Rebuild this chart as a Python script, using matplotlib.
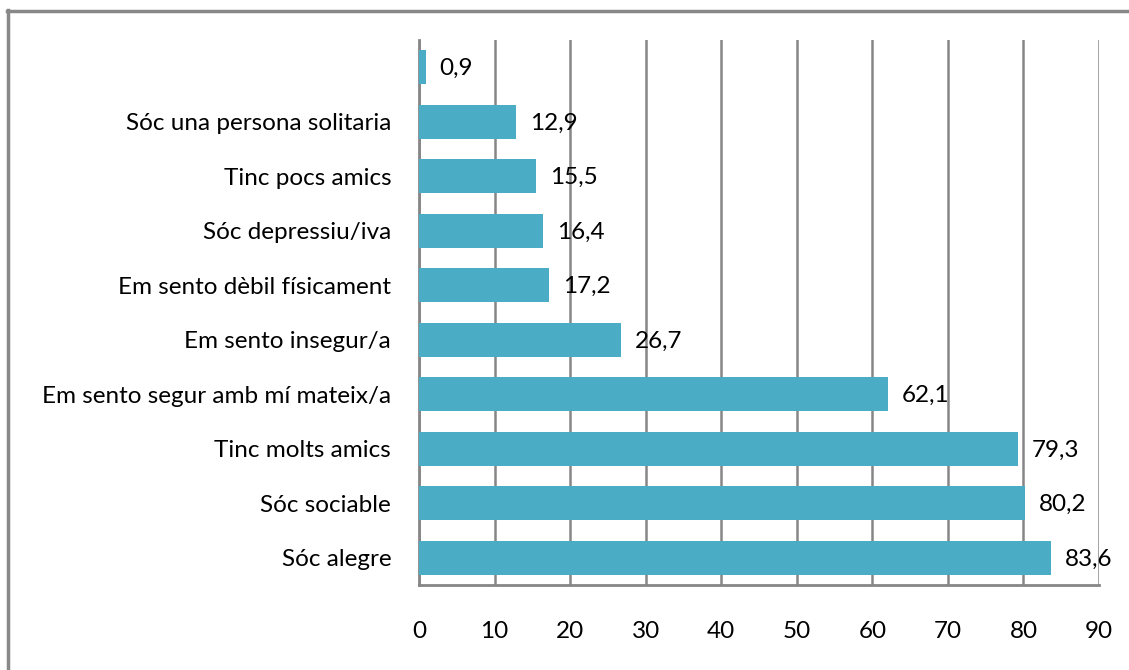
import matplotlib.pyplot as plt
from matplotlib.lines import Line2D

# Data (bottom to top)
labels = ['Sóc alegre', 'Sóc sociable', 'Tinc molts amics',
          'Em sento segur amb mí mateix/a', 'Em sento insegur/a',
          'Em sento dèbil físicament', 'Sóc depressiu/iva',
          'Tinc pocs amics', 'Sóc una persona solitaria', '']
values = [83.6, 80.2, 79.3, 62.1, 26.7, 17.2, 16.4, 15.5, 12.9, 0.9]
xticks = [0, 10, 20, 30, 40, 50, 60, 70, 80, 90]

plt.rcParams['font.family'] = ['Lato', 'DejaVu Sans']

fig = plt.figure(figsize=(11.29, 6.70), dpi=100)
ax = fig.add_axes([419 / 1129, 85 / 670, 680 / 1129, 545 / 670])

ypos = range(len(values))
ax.barh(ypos, values, height=0.63, color='#4BACC6', zorder=3)

# data labels
for y, v in zip(ypos, values):
    ax.annotate(f'{v:.1f}'.replace('.', ','), (v, y), xytext=(10, -1),
                textcoords='offset points', ha='left', va='center',
                fontsize=17.5, color='black', zorder=4)

ax.set_xlim(0, 90)
ax.set_ylim(-0.5, len(values) - 0.5)
ax.set_xticks(xticks)
ax.set_yticks(list(ypos))
ax.set_yticklabels(labels)
ax.tick_params(axis='both', length=0, labelsize=17.5)
ax.tick_params(axis='x', pad=26)
ax.tick_params(axis='y', pad=20)
ax.xaxis.grid(True, color='#868686', linewidth=1.8, zorder=0)

for side in ['top', 'right']:
    ax.spines[side].set_visible(False)
for side in ['left', 'bottom']:
    ax.spines[side].set_color('#868686')
    ax.spines[side].set_linewidth(2)

# outer frame
fig.add_artist(Line2D([7 / 1129, 1.0], [1 - 10.5 / 670] * 2,
                      transform=fig.transFigure, color='#888888', lw=2.5))
fig.add_artist(Line2D([8 / 1129] * 2, [0, 1 - 10 / 670],
                      transform=fig.transFigure, color='#888888', lw=2.5))

plt.savefig('out.png', dpi=100)
